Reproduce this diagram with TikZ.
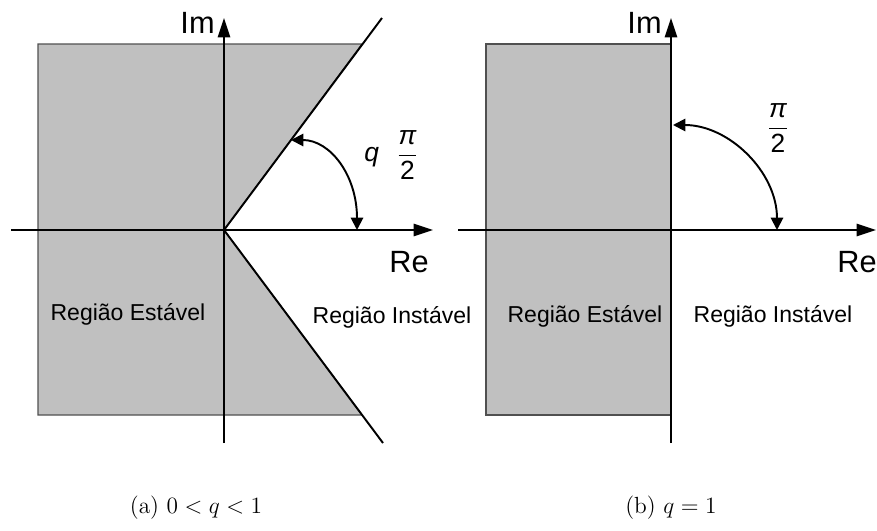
\documentclass[tikz,border=0pt]{standalone}
\usepackage{fix-cm}
\usepackage{fontspec}
\newfontfamily\arialfont{Liberation Sans}
\definecolor{regiongray}{RGB}{192,192,192}
\definecolor{rimgray}{RGB}{80,80,80}
\usetikzlibrary{arrows.meta}

\begin{document}
\begin{tikzpicture}[x=0.02cm, y=-0.02cm,
    axis/.style={line width=1.1pt, -{Triangle[length=11pt, width=7pt]}},
    bound/.style={line width=1.1pt},
    angarc/.style={line width=1.1pt,
      {Triangle[length=7pt, width=7pt]}-{Triangle[length=7pt, width=7pt]}},
    region/.style={fill=regiongray, draw=rimgray, line width=0.6pt},
    axlabel/.style={font=\arialfont\fontsize{17.5}{20}\selectfont, inner sep=0pt},
    zonelabel/.style={font=\arialfont\fontsize{13.1}{15}\selectfont, inner sep=0pt},
    anglabel/.style={font=\arialfont\fontsize{15}{18}\selectfont, inner sep=0pt},
    caption/.style={font=\fontsize{13.3}{16}\selectfont, inner sep=0pt}]
  \useasboundingbox (0,0) rectangle (877,531);

  % (a) 0 < q < 1
  \coordinate (oa) at (224,230);
  \coordinate (upa) at (382,18);
  \coordinate (lowa) at (383,443);
  \draw[region] (38,44) -- (362,44) -- (oa) -- (362,415) -- (38,415) -- cycle;
  \draw[axis] (11,230) -- (433,230);
  \draw[axis] (224,443) -- (224,18);
  \draw[bound] (oa) -- (upa);
  \draw[bound] (oa) -- (lowa);
  \draw[angarc] (357,230) .. controls (357,175) and (330,140) .. (291,140);
  \node[axlabel, anchor=base east] (ima) at (215,33) {Im};
  \node[axlabel, anchor=base west] (rea) at (389,272) {Re};
  \node[anglabel, anchor=west] (anga) at (364,155)
    {$\displaystyle\textit{q}\hspace{10pt}\frac{\textit{π}}{\mbox{2}}$};
  \node[zonelabel] (esta) at (128,314) {Região Estável};
  \node[zonelabel] (insta) at (392,317) {Região Instável};
  \node[caption] (capa) at (196,508) {(a) $0<q<1$};

  % (b) q = 1
  \coordinate (ob) at (671,230);
  \draw[region] (486,44) rectangle (ob |- 0,415);
  \draw[axis] (458,230) -- (876,230);
  \draw[axis] (671,443) -- (671,18);
  \draw[angarc] (777,230) .. controls (777,172) and (729,125) .. (673,125);
  \node[axlabel, anchor=base east] (imb) at (662,33) {Im};
  \node[axlabel, anchor=base west] (reb) at (837,272) {Re};
  \node[anglabel] (angb) at (778,128) {$\displaystyle\frac{\textit{π}}{\mbox{2}}$};
  \node[zonelabel] (estb) at (585,316) {Região Estável};
  \node[zonelabel] (instb) at (773,316) {Região Instável};
  \node[caption] (capb) at (671,508) {(b) $q=1$};
\end{tikzpicture}
\end{document}
